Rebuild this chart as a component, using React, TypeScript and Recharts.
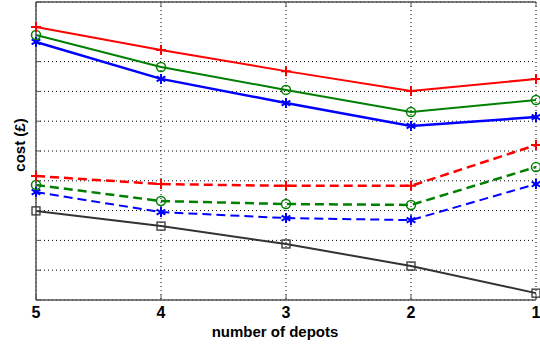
import React from "react";
import {
  LineChart,
  Line,
  XAxis,
  YAxis,
  CartesianGrid,
} from "recharts";

const depots = ["5", "4", "3", "2", "1"];
const redSolid = [9.16, 8.39, 7.68, 7.01, 7.42];
const greenSolid = [8.89, 7.82, 7.05, 6.31, 6.71];
const blueSolid = [8.66, 7.42, 6.61, 5.84, 6.14];
const redDashed = [4.16, 3.89, 3.83, 3.83, 5.2];
const greenDashed = [3.86, 3.32, 3.22, 3.19, 4.46];
const blueDashed = [3.62, 2.95, 2.75, 2.68, 3.89];
const blackSolid = [2.99, 2.48, 1.88, 1.14, 0.23];
const yTicks = [0, 1, 2, 3, 4, 5, 6, 7, 8, 9, 10];

const data = depots.map((d, i) => ({
  depots: d,
  redSolid: redSolid[i],
  greenSolid: greenSolid[i],
  blueSolid: blueSolid[i],
  redDashed: redDashed[i],
  greenDashed: greenDashed[i],
  blueDashed: blueDashed[i],
  blackSolid: blackSolid[i],
}));

const FONT = "'Liberation Sans', Arial, sans-serif";
const AXIS = { stroke: "#555", strokeWidth: 1.5 };
const TICK_LINE = { stroke: "#555", strokeWidth: 1 };

type DotProps = { cx?: number; cy?: number; index?: number };

const plusDot = (color: string) => (p: DotProps) => {
  const { cx = 0, cy = 0 } = p;
  const s = 5;
  return (
    <path
      key={`p${p.index}`}
      d={`M${cx - s},${cy}H${cx + s}M${cx},${cy - s}V${cy + s}`}
      stroke={color}
      strokeWidth={2}
      fill="none"
    />
  );
};

const circleDot = (color: string) => (p: DotProps) => {
  const { cx = 0, cy = 0 } = p;
  return (
    <circle
      key={`c${p.index}`}
      cx={cx}
      cy={cy}
      r={4.5}
      stroke={color}
      strokeWidth={1.5}
      fill="none"
    />
  );
};

const starDot = (color: string) => (p: DotProps) => {
  const { cx = 0, cy = 0 } = p;
  const s = 5;
  const d = s * 0.87;
  const h = s * 0.5;
  return (
    <path
      key={`s${p.index}`}
      d={`M${cx},${cy - s}V${cy + s}M${cx - d},${cy - h}L${cx + d},${cy + h}M${cx - d},${cy + h}L${cx + d},${cy - h}`}
      stroke={color}
      strokeWidth={2}
      fill="none"
    />
  );
};

const squareDot = (color: string) => (p: DotProps) => {
  const { cx = 0, cy = 0 } = p;
  return (
    <rect
      key={`q${p.index}`}
      x={cx - 4}
      y={cy - 4}
      width={8}
      height={8}
      stroke={color}
      strokeWidth={1.3}
      fill="none"
    />
  );
};

const NoTick = () => <g />;

const CostLabel = () => (
  <text
    x={0}
    y={0}
    transform="translate(25,145) rotate(-90)"
    textAnchor="middle"
    fontFamily={FONT}
    fontWeight="bold"
    fontSize={15}
    fill="#000"
  >
    cost (£)
  </text>
);

export default function App() {
  return (
    <div style={{ position: "absolute", left: 0, top: 0, background: "#fff" }}>
      <LineChart
        width={540}
        height={345}
        data={data}
        margin={{ top: 1, right: 4, left: 0, bottom: 0 }}
      >
        <CartesianGrid
          stroke="#000"
          strokeDasharray="1 3"
          strokeWidth={1}
        />
        <XAxis
          dataKey="depots"
          padding={{ left: 0, right: 0 }}
          height={45}
          tickSize={-5}
          tickMargin={12}
          tickLine={TICK_LINE}
          axisLine={AXIS}
          tick={{ fill: "#000", fontSize: 16, fontWeight: "bold", fontFamily: FONT }}
          label={{
            value: "number of depots",
            position: "insideBottom",
            offset: 8,
            dx: -11,
            fill: "#000",
            fontSize: 15,
            fontWeight: "bold",
            fontFamily: FONT,
          }}
        />
        <XAxis
          xAxisId="top"
          dataKey="depots"
          orientation="top"
          height={1}
          tick={NoTick}
          tickSize={-5}
          tickLine={TICK_LINE}
          axisLine={AXIS}
        />
        <YAxis
          domain={[0, 10]}
          ticks={yTicks}
          width={36}
          tick={NoTick}
          tickSize={-5}
          tickLine={TICK_LINE}
          axisLine={AXIS}
          label={<CostLabel />}
        />
        <YAxis
          yAxisId="right"
          orientation="right"
          domain={[0, 10]}
          ticks={yTicks}
          width={0}
          tick={NoTick}
          tickSize={-5}
          tickLine={TICK_LINE}
          axisLine={AXIS}
        />
        <Line dataKey="blackSolid" stroke="#333" strokeWidth={2} dot={squareDot("#333")} isAnimationActive={false} />
        <Line dataKey="blueDashed" stroke="#0000ff" strokeWidth={2} strokeDasharray="9 5" dot={starDot("#0000ff")} isAnimationActive={false} />
        <Line dataKey="greenDashed" stroke="#008000" strokeWidth={2.5} strokeDasharray="9 5" dot={circleDot("#008000")} isAnimationActive={false} />
        <Line dataKey="redDashed" stroke="#ff0000" strokeWidth={2.5} strokeDasharray="9 5" dot={plusDot("#ff0000")} isAnimationActive={false} />
        <Line dataKey="blueSolid" stroke="#0000ff" strokeWidth={2.5} dot={starDot("#0000ff")} isAnimationActive={false} />
        <Line dataKey="greenSolid" stroke="#008000" strokeWidth={2} dot={circleDot("#008000")} isAnimationActive={false} />
        <Line dataKey="redSolid" stroke="#ff0000" strokeWidth={2} dot={plusDot("#ff0000")} isAnimationActive={false} />
      </LineChart>
    </div>
  );
}
